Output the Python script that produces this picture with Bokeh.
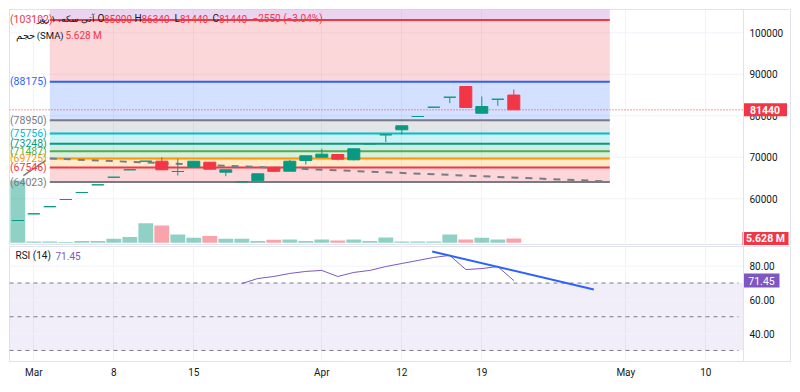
from bokeh.plotting import figure
from bokeh.models import Range1d, FixedTicker, Label, Span, BoxAnnotation, ColumnDataSource
from bokeh.layouts import column
from bokeh.embed import file_html
from bokeh.resources import INLINE
from bokeh.core.properties import value

# ---------------- data ----------------
opens  = [54770, 56380, 58100, 59830, 61520, 63370, 65200, 66990, 69060, 69060,
          66580, 67770, 68820, 66410, 64100, 64380, 67580, 66650, 69230, 70020,
          70670, 69400, 73250, 75420, 76630, 79830, 82070, 84480, 87060, 80620,
          83990, 85000]
highs  = [54770, 56380, 58100, 59830, 61520, 63370, 65200, 66990, 69060, 70020,
          69640, 69060, 68820, 66990, 64100, 66020, 67580, 69400, 70360, 72050,
          70670, 72050, 73250, 75420, 77590, 79830, 82070, 84480, 87060, 84650,
          83990, 86340]
lows   = [54770, 56380, 58100, 59830, 61520, 63370, 65200, 66990, 69060, 66990,
          65610, 67770, 67130, 65450, 64100, 64380, 66620, 66650, 68260, 70020,
          69230, 69230, 73250, 73640, 75500, 79830, 82070, 83040, 82000, 80620,
          82410, 81440]
closes = [54770, 56380, 58100, 59830, 61520, 63370, 65200, 66990, 69060, 66990,
          66580, 69060, 67130, 66990, 64100, 66020, 66620, 69060, 70360, 70750,
          69540, 72050, 73250, 75420, 77590, 79830, 82070, 84480, 82000, 82240,
          83990, 81440]
volumes_m = [81.0, 1.7, 1.7, 0.9, 2.2, 2.2, 5.2, 7.4, 25.5, 22.5,
             10.8, 6.5, 8.7, 5.2, 5.2, 2.2, 3.9, 4.3, 2.2, 4.3,
             3.0, 4.3, 2.2, 6.9, 1.7, 1.7, 1.7, 10.8, 4.3, 6.5,
             4.3, 5.628]
rsi_start = 14
rsi_values = [69.7, 72.7, 73.9, 75.7, 76.9, 77.5, 73.9, 76.3, 77.5, 79.8,
              81.6, 83.4, 85.2, 86.4, 78.0, 78.6, 79.8, 71.45]

fib_levels = [64023, 67546, 69725, 71487, 73248, 75756, 78950, 88175, 103102, 127252]
fib_colors = ["#787b86", "#f23645", "#ff9800", "#4caf50", "#089981",
              "#00bcd4", "#787b86", "#2962ff", "#f23645", "#9c27b0"]
fib_start_idx, fib_end_idx = 2, 37
trend_dash_x, trend_dash_y = [2, 37], [69710, 64170]
trend_solid_x, trend_solid_y = [0.35, 1.75], [65610, 69230]
rsi_trend_x, rsi_trend_y = [25.9, 36.0], [88.7, 66.2]

tick_idx = [1, 6, 11, 19, 24, 29, 38, 43]
tick_labels = ["Mar", "8", "15", "Apr", "12", "19", "May", "10"]
price_ticks = [60000, 70000, 80000, 90000, 100000]
rsi_ticks = [40, 60, 80]
rsi_bands = [30, 50, 70]

title_text = "آتی سکه، ۱ روز"
vol_text = "حجم (SMA)"

# ---------------- layout helpers (page pixel -> data) ----------------
FONT = "Roboto"
DARK = "#131722"
GREEN = "#089981"
RED = "#f23645"
PURPLE = "#7e57c2"
GRID = "#f0f3fa"
BORDER = "#e0e3eb"


def X(px):
    return (px - 17.3) / 16.0


def P(py):
    return 70000 + (156.8 - py) * 240.96


def R(py):
    return 80 + (265.7 - py) / 1.685


n = len(opens)
idx = list(range(n))
x_range = Range1d(X(9), X(791))
XL, XR = X(9), X(743)      # plotting area (left of the price scale)
XAX = X(749)               # price-scale label position
XTAG = X(764.5)            # price-scale tag centre

# ---------------- main pane ----------------
p = figure(frame_width=782, frame_height=236, x_range=x_range,
           y_range=Range1d(P(245), P(9)), y_axis_location=None,
           x_axis_location=None, output_backend="svg", toolbar_location=None,
           min_border_left=9, min_border_top=9, min_border_bottom=0, min_border_right=0,
           background_fill_color="white", border_fill_color="white")
p.outline_line_color = BORDER
p.ygrid.visible = False
p.xgrid.ticker = FixedTicker(ticks=tick_idx)
p.xgrid.grid_line_color = GRID

vol_px_per_m = 0.77
vol_bottom = -(245 - 242.3) / vol_px_per_m
p.extra_y_ranges = {"vol": Range1d(vol_bottom, vol_bottom + 236 / vol_px_per_m)}

# horizontal grid
p.segment(x0=[XL] * len(price_ticks), x1=[XR] * len(price_ticks), y0=price_ticks,
          y1=price_ticks, line_color=GRID, line_width=1)

# fib zones
for k in range(1, len(fib_levels)):
    p.quad(left=[fib_start_idx], right=[fib_end_idx], bottom=[fib_levels[k - 1]],
           top=[fib_levels[k]], fill_color=fib_colors[k], fill_alpha=0.2, line_color=None)

# volume
vol_colors = [GREEN if c >= o else RED for o, c in zip(opens, closes)]
vsrc = ColumnDataSource(dict(x=idx, top=volumes_m, color=vol_colors))
p.vbar(x="x", top="top", bottom=0, width=0.93, source=vsrc, fill_color="color",
       fill_alpha=0.45, line_color=None, y_range_name="vol")

# fib lines
for lv, col in zip(fib_levels, fib_colors):
    p.segment(x0=[fib_start_idx], x1=[fib_end_idx], y0=[lv], y1=[lv], line_color=col, line_width=2)

# trend lines
p.line(trend_dash_x, trend_dash_y, line_color="#787b86", line_width=2, line_dash="7 7")
p.line(trend_solid_x, trend_solid_y, line_color="#787b86", line_width=1.5)

# price line
p.segment(x0=[XL], x1=[XR], y0=[closes[-1]], y1=[closes[-1]], line_color=RED,
          line_dash="1 2", line_width=1)

# candles
ccol = [GREEN if c >= o else RED for o, c in zip(opens, closes)]
csrc = ColumnDataSource(dict(x=idx, o=opens, h=highs, l=lows, c=closes,
                             top=[max(a, b) for a, b in zip(opens, closes)],
                             bot=[min(a, b) for a, b in zip(opens, closes)], color=ccol))
p.segment(x0="x", x1="x", y0="l", y1="h", line_color="color", line_width=1, source=csrc)
p.vbar(x="x", top="top", bottom="bot", width=0.75, fill_color="color", line_color="color",
       line_width=1, source=csrc)

# level labels
lvl_show = fib_levels[:-1]
p.text(x=[X(9.5)] * len(lvl_show), y=lvl_show, text=[f"({v})" for v in lvl_show],
       text_color=fib_colors[:-1], text_align="left", text_baseline="middle",
       text_font=value(FONT), text_font_size="10.5px")

# price scale
p.add_layout(Span(location=XR, dimension="height", line_color=BORDER, line_width=1))
p.text(x=[XAX] * len(price_ticks), y=price_ticks, text=[str(t) for t in price_ticks],
       text_color=DARK, text_align="left", text_baseline="middle",
       text_font=value(FONT), text_font_size="10px")
p.rect(x=[XTAG], y=[closes[-1]], width=44, height=13, width_units="screen",
       height_units="screen", fill_color=RED, line_color=None)
p.text(x=[XTAG], y=[closes[-1]], text=[f"{closes[-1]}"], text_color="white",
       text_align="center", text_baseline="middle", text_font=value(FONT),
       text_font_size="10.5px", text_font_style="bold")
p.rect(x=[X(765)], y=[volumes_m[-1]], width=46, height=13, width_units="screen",
       height_units="screen", fill_color=RED, line_color=None, y_range_name="vol")
p.text(x=[X(765)], y=[volumes_m[-1]], text=[f"{volumes_m[-1]:.3f} M"], text_color="white",
       text_align="center", text_baseline="middle", text_font=value(FONT),
       text_font_size="10.5px", text_font_style="bold", y_range_name="vol")


def lab(fig, px, y, text, color, size="10px", align="left"):
    fig.add_layout(Label(x=X(px), y=y, text=text, text_color=color, text_font=FONT,
                         text_font_size=size, text_align=align, text_baseline="middle"))


# legend line 1
lab(p, 36, P(18), title_text, DARK, size="9px")
lab(p, 97, P(18), "O", DARK)
lab(p, 103.5, P(18), f"{opens[-1]}", RED)
lab(p, 134, P(18), "H", DARK)
lab(p, 141, P(18), f"{highs[-1]}", RED)
lab(p, 174, P(18), "L", DARK)
lab(p, 179.5, P(18), f"{lows[-1]}", RED)
lab(p, 212, P(18), "C", DARK)
lab(p, 218.5, P(18), f"{closes[-1]}", RED)
chg = closes[-1] - closes[-2]
pct = chg / closes[-2] * 100
lab(p, 252, P(18), f"\u2212{abs(chg)} (\u2212{abs(pct):.2f}%)", RED)
# legend line 2
lab(p, 15, P(35), vol_text, DARK, size="9.5px")
lab(p, 65, P(35), f"{volumes_m[-1]:.3f} M", RED)

# ---------------- RSI pane ----------------
q = figure(frame_width=782, frame_height=115, x_range=x_range,
           y_range=Range1d(R(361), R(246)), y_axis_location=None,
           output_backend="svg", toolbar_location=None,
           min_border_left=9, min_border_top=1, min_border_right=0, min_border_bottom=2,
           background_fill_color="white", border_fill_color="white")
q.outline_line_color = BORDER
q.xaxis.ticker = FixedTicker(ticks=tick_idx)
q.xaxis.major_label_overrides = {t: s for t, s in zip(tick_idx, tick_labels)}
q.xaxis.axis_line_color = BORDER
q.xaxis.major_tick_line_color = None
q.xaxis.minor_tick_line_color = None
q.xaxis.major_tick_out = 0
q.xaxis.major_tick_in = 0
q.xaxis.major_label_text_font = FONT
q.xaxis.major_label_text_font_size = "10px"
q.xaxis.major_label_text_color = DARK
q.xaxis.major_label_standoff = 5
q.ygrid.visible = False
q.xgrid.ticker = FixedTicker(ticks=tick_idx)
q.xgrid.grid_line_color = GRID

q.segment(x0=[XL] * len(rsi_ticks), x1=[XR] * len(rsi_ticks), y0=rsi_ticks, y1=rsi_ticks,
          line_color=GRID, line_width=1)
q.add_layout(BoxAnnotation(left=XL, right=XR, bottom=rsi_bands[0], top=rsi_bands[-1],
                           fill_color=PURPLE, fill_alpha=0.1, line_color=None, level="underlay"))
q.segment(x0=[XL] * len(rsi_bands), x1=[X(738)] * len(rsi_bands), y0=rsi_bands, y1=rsi_bands,
          line_color="#787b86", line_dash="4 4", line_width=1)

rsi_x = list(range(rsi_start, rsi_start + len(rsi_values)))
q.line(rsi_x, rsi_values, line_color=PURPLE, line_width=1)
q.line(rsi_trend_x, rsi_trend_y, line_color="#2962ff", line_width=2)

# RSI scale
q.add_layout(Span(location=XR, dimension="height", line_color=BORDER, line_width=1))
q.text(x=[XAX] * len(rsi_ticks), y=rsi_ticks, text=[f"{t:.2f}" for t in rsi_ticks],
       text_color=DARK, text_align="left", text_baseline="middle",
       text_font=value(FONT), text_font_size="10px")
q.rect(x=[X(761)], y=[rsi_values[-1]], width=36, height=14, width_units="screen",
       height_units="screen", fill_color=PURPLE, line_color=None)
q.text(x=[X(761)], y=[rsi_values[-1]], text=[f"{rsi_values[-1]:.2f}"], text_color="white",
       text_align="center", text_baseline="middle", text_font=value(FONT),
       text_font_size="10.5px")

lab(q, 15, R(255), "RSI (14)", DARK)
lab(q, 55, R(255), f"{rsi_values[-1]:.2f}", PURPLE)

layout = column(p, q, spacing=0)
open("out.html", "w").write(file_html(layout, INLINE))
